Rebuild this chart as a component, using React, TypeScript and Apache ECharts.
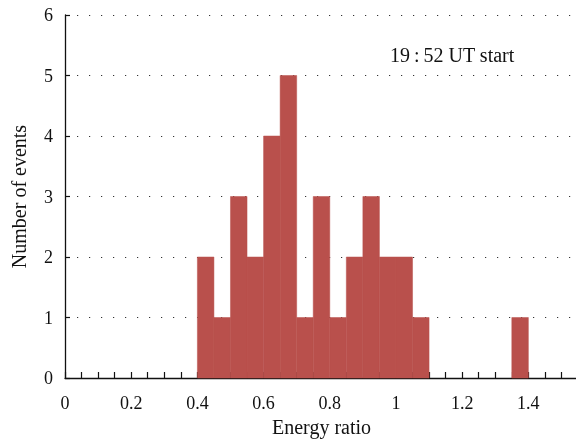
import React, { useEffect, useRef } from "react";
import * as echarts from "echarts";

// Histogram of energy ratio (bin width 0.05)
const binStarts = [0.4, 0.45, 0.5, 0.55, 0.6, 0.65, 0.7, 0.75, 0.8, 0.85, 0.9, 0.95, 1.0, 1.05, 1.35];
const counts = [2, 1, 3, 2, 4, 5, 1, 3, 1, 2, 3, 2, 2, 1, 1];
const binWidth = 0.05;
const yTicks = [0, 1, 2, 3, 4, 5, 6];
const annotation = "19\u2009:\u200952 UT start";

const FONT = "'Liberation Serif', 'DejaVu Serif', serif";

export default function App() {
  const ref = useRef<HTMLDivElement>(null);

  useEffect(() => {
    if (!ref.current) return;
    const chart = echarts.init(ref.current, null, { renderer: "svg" });
    const data = binStarts.map((s, i) => [s, s + binWidth, counts[i]]);

    chart.setOption({
      animation: false,
      grid: {
        left: 65,
        top: 15,
        width: 513,
        height: 363,
        containLabel: false,
        outerBoundsMode: "none",
      },
      xAxis: {
        type: "value",
        min: 0,
        max: 1.55,
        interval: 0.05,
        name: "Energy ratio",
        nameLocation: "middle",
        nameGap: 39,
        nameTextStyle: { fontFamily: FONT, fontSize: 20, color: "#111" },
        axisLine: { lineStyle: { color: "#111", width: 1.3 } },
        axisTick: { inside: true, length: 6, lineStyle: { color: "#111", width: 1.2 } },
        axisLabel: {
          fontFamily: FONT,
          fontSize: 18,
          color: "#111",
          margin: 16,
          formatter: (v: number) => {
            const k = v * 5;
            if (Math.abs(k - Math.round(k)) > 1e-6) return "";
            return String(parseFloat(v.toFixed(2)));
          },
        },
        splitLine: { show: false },
      },
      yAxis: {
        type: "value",
        min: yTicks[0],
        max: yTicks[yTicks.length - 1],
        interval: 1,
        name: "Number of events",
        nameLocation: "middle",
        nameGap: 36,
        nameTextStyle: { fontFamily: FONT, fontSize: 20, color: "#111" },
        axisLine: { show: true, lineStyle: { color: "#111", width: 1.3 } },
        axisTick: { show: true, inside: true, length: 5, lineStyle: { color: "#111", width: 1.2 } },
        axisLabel: { fontFamily: FONT, fontSize: 18, color: "#111", margin: 12 },
        splitLine: {
          show: true,
          lineStyle: { color: "#333", width: 1.2, type: [1.2, 10.8] },
        },
      },
      graphic: [
        {
          type: "text",
          left: 390,
          top: 45,
          style: { text: annotation, fontFamily: FONT, fontSize: 20, fill: "#111" },
        },
      ],
      series: [
        {
          type: "custom",
          data,
          encode: { x: [0, 1], y: 2 },
          renderItem: (params: any, api: any) => {
            const p0 = api.coord([api.value(0), api.value(2)]);
            const p1 = api.coord([api.value(1), 0]);
            return {
              type: "rect",
              shape: { x: p0[0], y: p0[1], width: p1[0] - p0[0], height: p1[1] - p0[1] },
              style: { fill: "#b9504c", stroke: "#b9504c", lineWidth: 0.5 },
            };
          },
          z: 1,
        },
      ],
    });
    return () => chart.dispose();
  }, []);

  return (
    <div
      ref={ref}
      style={{ position: "fixed", left: 0, top: 0, width: 576, height: 440 }}
    />
  );
}
